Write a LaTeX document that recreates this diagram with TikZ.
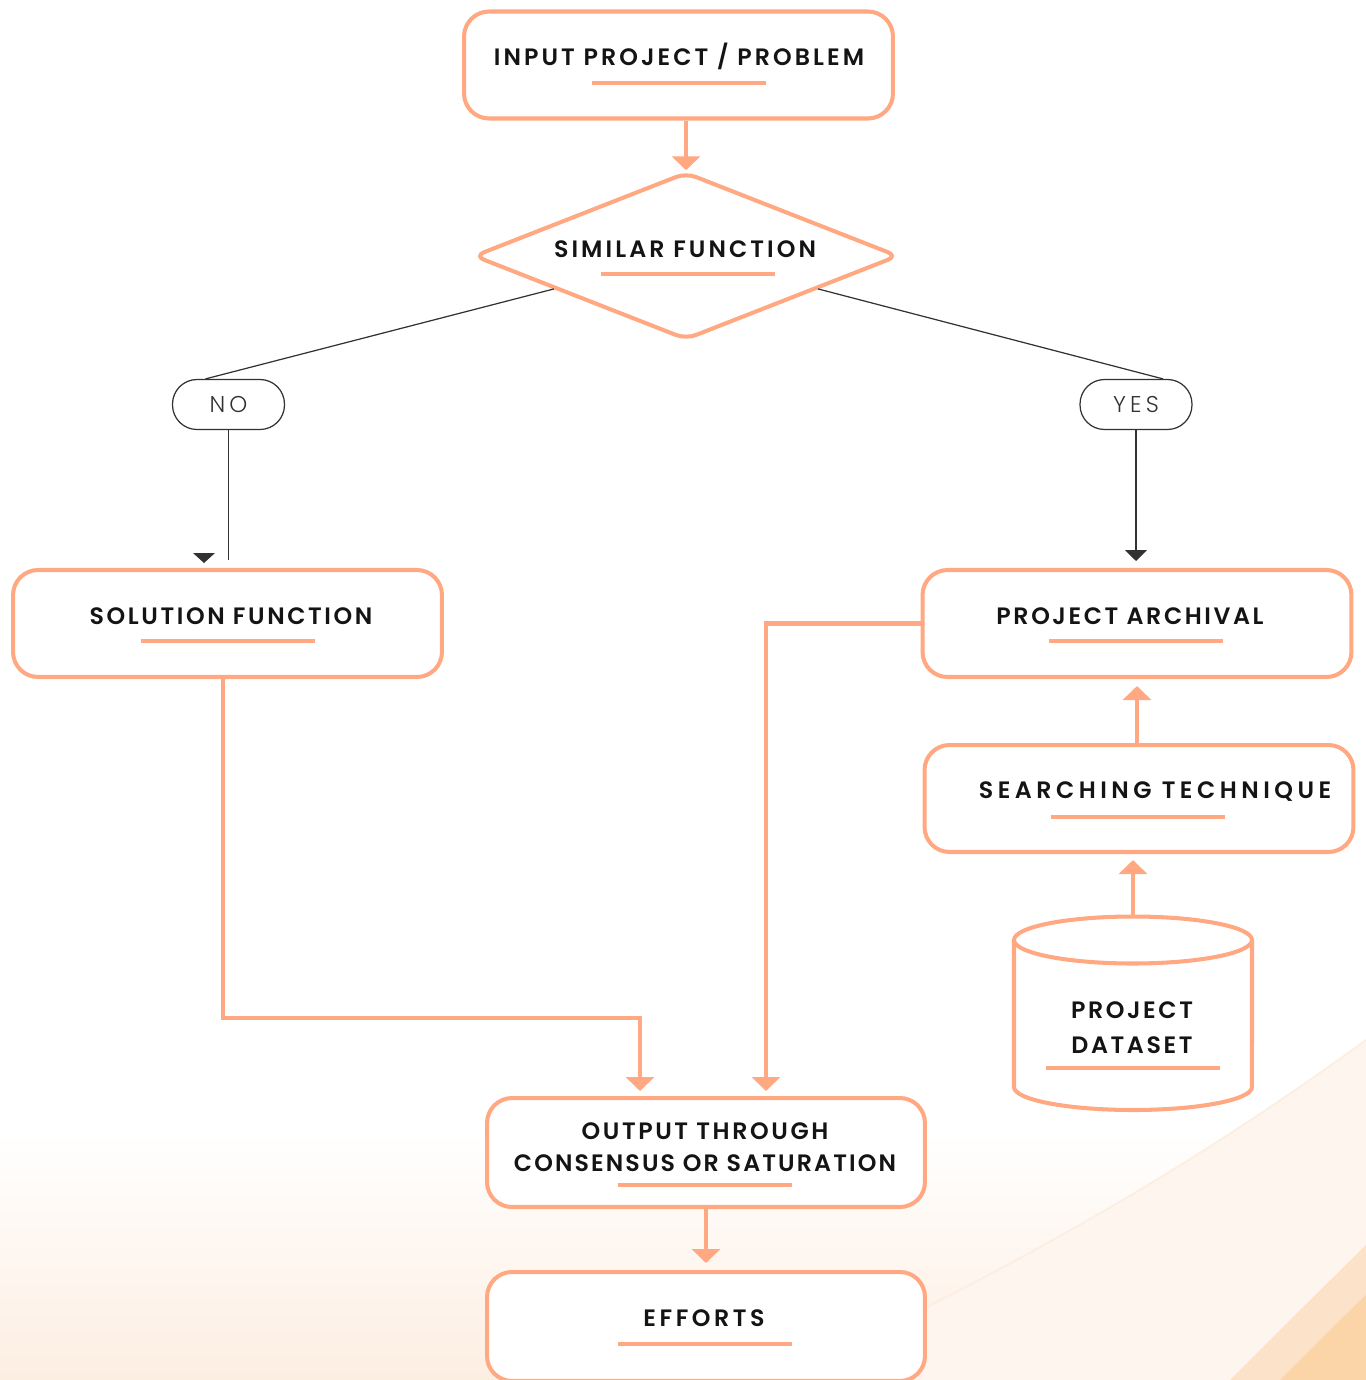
\documentclass[tikz,border=0pt]{standalone}
\usepackage{fontspec}
\setmainfont{Poppins}
\newfontfamily\boxfont{Poppins SemiBold}[LetterSpace=11]
\newfontfamily\pillfont{Poppins Light}[LetterSpace=18]
\usetikzlibrary{shapes.geometric,arrows.meta}

\definecolor{orng}{RGB}{255,168,130}
\definecolor{ink}{RGB}{20,20,20}
\definecolor{pillgray}{RGB}{50,50,50}
\definecolor{peachA}{RGB}{253,238,226}
\definecolor{peachL}{RGB}{254,245,238}
\definecolor{peachB}{RGB}{252,226,200}
\definecolor{peachC}{RGB}{251,212,168}

\begin{document}
\begin{tikzpicture}[x=0.02cm, y=-0.02cm,
    box/.style={draw=orng, fill=white, line width=2.3pt, rounded corners=0.5cm,
        minimum width=8.58cm, minimum height=2.14cm, inner sep=0},
    decision/.style={diamond, draw=orng, fill=white, line width=2.3pt, rounded corners=6pt,
        minimum width=8.5cm, minimum height=3.35cm, inner sep=0},
    pill/.style={draw=pillgray, line width=0.7pt, rounded corners=0.49cm, text=pillgray,
        minimum width=2.24cm, minimum height=1cm, inner sep=0,
        font=\pillfont\fontsize{13}{16}\selectfont},
    lbl/.style={font=\boxfont\fontsize{13.5}{18}\selectfont, text=ink, anchor=base, inner sep=0},
    lbltwo/.style={font=\boxfont\fontsize{13.5}{18.1}\selectfont, text=ink, align=center, inner sep=0},
    flow/.style={draw=orng, line width=2.3pt, -{Triangle[width=0.56cm,length=0.28cm]}},
    link/.style={draw=pillgray, line width=0.7pt},
    uline/.style={draw=orng, line width=2.8pt}
]

\useasboundingbox (0,0) rectangle (1366,1380);
\clip (0,0) rectangle (1366,1380);

% background
\shade[top color=white, bottom color=peachA] (0,1130) rectangle (1366,1380);
\fill[peachL] (1366,1040) .. controls (1200,1160) and (1050,1250) .. (780,1380) -- (1366,1380) -- cycle;
\draw[peachA, line width=1pt] (1366,1040) .. controls (1200,1160) and (1050,1250) .. (780,1380);
\fill[peachB] (1366,1245) .. controls (1310,1300) and (1270,1340) .. (1230,1380) -- (1366,1380) -- cycle;
\fill[peachC] (1366,1295) .. controls (1330,1330) .. (1280,1380) -- (1366,1380) -- cycle;

% boxes
\node[box] (input) at (678.5,65) {};
\node[decision] (sim) at (686,256) {};
\node[box] (sol) at (227.5,623.5) {};
\node[box] (arch) at (1137,623.5) {};
\node[box] (srch) at (1139,798.5) {};
\node[box, minimum width=8.76cm, minimum height=2.18cm] (out) at (706,1152.5) {};
\node[box, minimum width=8.76cm, minimum height=2.18cm] (eff) at (706,1326.5) {};

% database
\draw[orng, line width=2.3pt, fill=white] (1014,940) -- (1014,1087)
    arc[start angle=180, end angle=360, x radius=2.38cm, y radius=0.46cm] -- (1252,940);
\draw[orng, line width=2.3pt, fill=white] (1133,940) ellipse [x radius=2.38cm, y radius=0.47cm];
\coordinate (data-top) at (1133,917);

% labels
\node[lbl] (input-t) at (679,65.5) {\addfontfeature{LetterSpace=13}INPUT PROJECT / PROBLEM};
\node[lbl] (sim-t) at (685,257.5) {\addfontfeature{LetterSpace=13}SIMILAR FUNCTION};
\node[lbl] (sol-t) at (231,624.5) {SOLUTION FUNCTION};
\node[lbl] (arch-t) at (1130,624.5) {PROJECT ARCHIVAL};
\node[lbl] (srch-t) at (1155,798.5) {\addfontfeature{LetterSpace=19}SEARCHING TECHNIQUE};
\node[lbltwo] (data) at (1132,1027.5) {PROJECT\\[1.7pt]DATASET};
\node[lbltwo] (out-t) at (705,1147) {OUTPUT THROUGH\\\addfontfeature{LetterSpace=9}CONSENSUS OR SATURATION};
\node[lbl] (eff-t) at (704,1326.5) {\addfontfeature{LetterSpace=15}EFFORTS};

% underlines
\foreach \x/\y in {678.5/83, 688/274, 227.5/641, 1135.5/641, 1137.5/817, 1133/1068, 704.5/1185, 704.5/1344} {
    \draw[uline] (\x-87,\y) -- (\x+87,\y);
}

% yes / no
\node[pill] (no) at (228.5,404.5) {NO};
\node[pill] (yes) at (1136,404.5) {YES};
\draw[link] (sim.194) -- ([xshift=-0.46cm]no.north);
\draw[link] (sim.-14) -- ([xshift=0.54cm]yes.north);
\draw[link, shorten >=0.16cm] (no) -- (no |- sol.north);
\fill[pillgray] (193,553) -- (215,553) -- (204,563) -- cycle;
\draw[link, -{Triangle[width=0.44cm,length=0.22cm]}, shorten >=0.14cm] (yes) -- (yes |- arch.north);

% flow arrows
\draw[flow] (sim.north |- input.south) -- (sim.north);
\draw[flow, shorten >=0.12cm] (data-top) -- (data-top |- srch.south);
\draw[flow, shorten >=0.14cm] (arch.south |- srch.north) -- (arch.south);
\draw[flow, shorten >=0.1cm] ([xshift=-0.09cm]sol.south) -- ++(0,338.5) -| ([xshift=-1.32cm]out.north);
\draw[flow, shorten >=0.1cm] (arch.west) -| ([xshift=1.2cm]out.north);
\draw[flow, shorten >=0.14cm] (out) -- (eff);

\end{tikzpicture}
\end{document}
